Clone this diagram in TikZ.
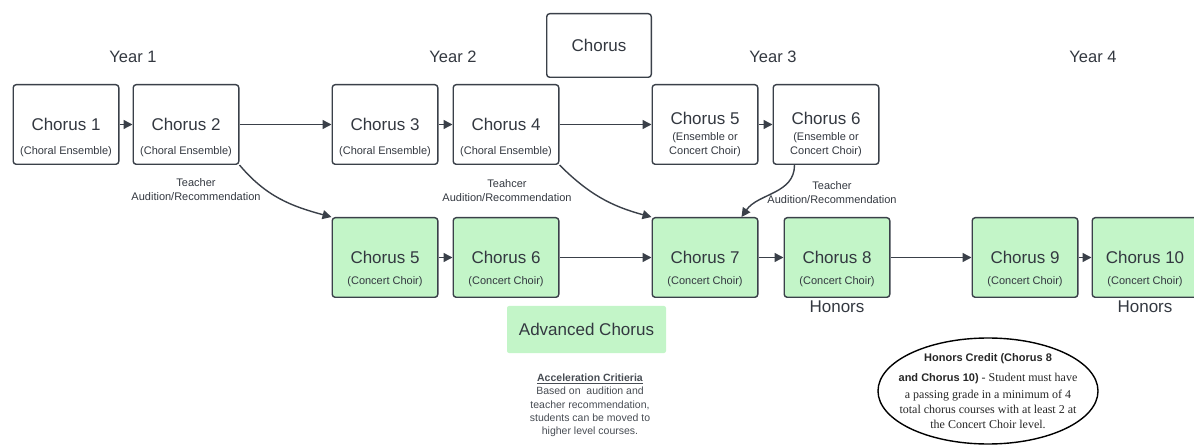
\documentclass[tikz,border=0pt]{standalone}
\usepackage{fontspec}
\setmainfont{Liberation Sans}
\newfontfamily\serifnote{Liberation Serif}
\usetikzlibrary{positioning}
\usetikzlibrary{arrows.meta}
\usetikzlibrary{shapes.geometric}
\definecolor{edge}{HTML}{3A4049}
\definecolor{ink}{HTML}{333840}
\definecolor{choir}{HTML}{C3F5C8}
\tikzset{
  course/.style={rectangle,rounded corners=3pt,draw=edge,line width=1.4pt,
                 fill=white,minimum width=105.6pt,minimum height=79.6pt,
                 text=ink,font=\fontsize{17}{20}\selectfont},
  concert/.style={course,fill=choir},
  sub/.style={anchor=south,inner sep=0pt,yshift=8pt,text=ink,align=center,
              font=\fontsize{11}{14}\selectfont},
  csub/.style={sub,yshift=3pt},
  year/.style={text=ink,font=\fontsize{16.5}{20}\selectfont},
  flow/.style={-{Triangle[length=9pt,width=9pt]},line width=1.4pt,draw=edge},
  recnote/.style={text=ink,align=center,font=\fontsize{11}{14}\selectfont},
  honors/.style={text=ink,inner sep=3pt,font=\fontsize{17}{20}\selectfont},
  credit/.style={ellipse,draw=black,line width=1.4pt,minimum width=220pt,
                 minimum height=106pt,inner sep=0pt},
}

\begin{document}
\begin{tikzpicture}[x=1pt,y=1pt]
    \useasboundingbox (0,0) rectangle (1194,-446);

    % Years
    \node[year] (y1) at (133,-57)  {Year 1};
    \node[year] (y2) at (453,-57)  {Year 2};
    \node[year] (y3) at (773,-57)  {Year 3};
    \node[year] (y4) at (1093,-57) {Year 4};

    \node[course,minimum width=104.6pt,minimum height=63.6pt] (chorus) at (599,-45.5) {Chorus};

    % Ensemble courses
    \node[course,label={[sub]south:(Choral Ensemble)}] (c1) at (66,-124.5) {Chorus 1};
    \node[course,label={[sub]south:(Choral Ensemble)}] (c2) [right=13pt of c1] {Chorus 2};
    \node[course,label={[sub]south:(Choral Ensemble)}] (c3) [right=92pt of c2] {Chorus 3};
    \node[course,label={[sub]south:(Choral Ensemble)}] (c4) [right=14pt of c3] {Chorus 4};
    \node[course,text depth=12pt,
          label={[sub]south:(Ensemble or\\Concert Choir)}] (c5) [right=92pt of c4] {Chorus 5};
    \node[course,text depth=12pt,
          label={[sub]south:(Ensemble or\\Concert Choir)}] (c6) [right=14pt of c5] {Chorus 6};

    % Concert choir courses
    \node[concert,label={[csub]south:(Concert Choir)}] (g5)  [below=52pt of c3] {Chorus 5};
    \node[concert,label={[csub]south:(Concert Choir)}] (g6)  [right=14pt of g5] {Chorus 6};
    \node[concert,label={[csub]south:(Concert Choir)}] (g7)  [right=92pt of g6] {Chorus 7};
    \node[concert,label={[csub]south:(Concert Choir)}] (g8)  [right=25pt of g7] {Chorus 8};
    \node[concert,label={[csub]south:(Concert Choir)}] (g9)  [right=81pt of g8] {Chorus 9};
    \node[concert,label={[csub]south:(Concert Choir)}] (g10) [right=13pt of g9] {Chorus 10};

    \node[honors] (h8)  [below=0pt of g8]  {Honors};
    \node[honors] (h10) [below=0pt of g10] {Honors};

    \node[rectangle,rounded corners=2pt,fill=choir,minimum width=159pt,minimum height=47pt,
          text=ink,font=\fontsize{17}{20}\selectfont] (adv) at (586.5,-329.5) {Advanced Chorus};

    \node[recnote,text=ink!90,font=\fontsize{10.5}{13.25}\selectfont] (accel) at (590,-405.5)
        {\underline{\textbf{Acceleration Critieria}}\\Based on\ \ audition and\\
         teacher recommendation,\\students can be moved to\\higher level courses.};

    \node[credit] (hc) at (988,-391) {};
    \node[align=center,text=black!85,font=\serifnote\fontsize{12}{15}\selectfont] (hctext) at (hc.center)
        {{\rmfamily\bfseries\fontsize{11}{15}\selectfont Honors Credit (Chorus 8}\\[5pt]
         {\rmfamily\bfseries\fontsize{11}{15}\selectfont and Chorus 10)} - Student must have\\[2pt]
         a passing grade in a minimum of 4\\
         total chorus courses with at least 2 at\\
         the Concert Choir level.};

    % Notes on the curved moves
    \node[recnote] (n1) at (196,-190) {Teacher\\Audition/Recommendation};
    \node[recnote] (n2) at (507,-191) {Teahcer\\Audition/Recommendation};
    \node[recnote] (n3) at (832,-193) {Teacher\\Audition/Recommendation};

    % Flows
    \draw[flow] (c1) -- (c2);
    \draw[flow] (c2) -- (c3);
    \draw[flow] (c3) -- (c4);
    \draw[flow] (c4) -- (c5);
    \draw[flow] (c5) -- (c6);
    \draw[flow] (g5) -- (g6);
    \draw[flow] (g6) -- (g7);
    \draw[flow] (g7) -- (g8);
    \draw[flow] (g8) -- (g9);
    \draw[flow] (g9) -- (g10);

    \draw[flow] (c2.south east) to[out=-50,in=165] (g5.north west);
    \draw[flow] (c4.south east) to[out=-45,in=165] (g7.north west);
    \draw[flow] ([xshift=22pt]c6.south west) to[out=-90,in=55] ([xshift=-17pt]g7.north east);
\end{tikzpicture}
\end{document}
